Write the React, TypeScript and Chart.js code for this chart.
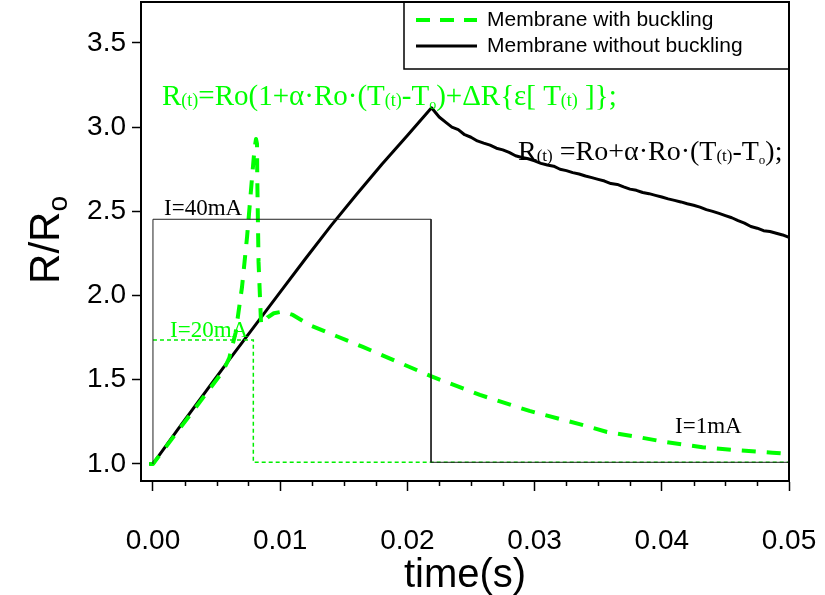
import { useEffect, useRef } from "react";
import { Chart, registerables } from "chart.js";

Chart.register(...registerables);

// ---- data ----
const xTicks = [0, 0.01, 0.02, 0.03, 0.04, 0.05];
const yTicks = [1.0, 1.5, 2.0, 2.5, 3.0, 3.5];
const xMinorTicks = [0.0025, 0.005, 0.0075, 0.0125, 0.015, 0.0175, 0.0225, 0.025, 0.0275, 0.0325, 0.035, 0.0375, 0.0425, 0.045, 0.0475];

const blackX = [-0.0003, 0, 0.002, 0.004, 0.006, 0.008, 0.010, 0.012, 0.014, 0.016, 0.018, 0.020, 0.0219,
  0.0225, 0.023, 0.0235, 0.024, 0.0245, 0.025, 0.0255, 0.026, 0.0265, 0.027, 0.0275, 0.028, 0.0285, 0.029, 0.0295, 0.030,
  0.0305, 0.031, 0.0315, 0.032, 0.0325, 0.033, 0.0335, 0.034, 0.0345, 0.035, 0.0355, 0.036, 0.0365, 0.037, 0.0375, 0.038,
  0.0385, 0.039, 0.0395, 0.040, 0.0405, 0.041, 0.0415, 0.042, 0.0425, 0.043, 0.0435, 0.044, 0.0445, 0.045, 0.0455, 0.046,
  0.0465, 0.047, 0.0475, 0.048, 0.0485, 0.049, 0.0495, 0.050];
const blackY = [1.0, 1.0, 1.21, 1.415, 1.62, 1.82, 2.02, 2.22, 2.415, 2.60, 2.78, 2.95, 3.115,
  3.06, 3.03, 3.0, 2.985, 2.955, 2.94, 2.918, 2.905, 2.893, 2.875, 2.865, 2.85, 2.83, 2.82, 2.812, 2.80,
  2.785, 2.775, 2.768, 2.75, 2.742, 2.73, 2.722, 2.71, 2.70, 2.69, 2.68, 2.665, 2.66, 2.645, 2.632, 2.625,
  2.612, 2.605, 2.595, 2.585, 2.574, 2.565, 2.556, 2.545, 2.536, 2.525, 2.51, 2.50, 2.488, 2.475, 2.462, 2.445,
  2.43, 2.41, 2.40, 2.385, 2.38, 2.37, 2.36, 2.345];

const greenX = [-0.0003, 0, 0.002, 0.004, 0.005, 0.0055, 0.006, 0.0065, 0.007, 0.0074, 0.0077, 0.0079, 0.0080, 0.0081,
  0.00818, 0.0082, 0.0083, 0.0085, 0.009, 0.0095, 0.0102, 0.011, 0.0123, 0.0144, 0.0165, 0.0185, 0.0219, 0.0257, 0.0296, 0.0336,
  0.0357, 0.038, 0.0403, 0.0432, 0.0456, 0.0487, 0.050];
const greenY = [1.0, 1.0, 1.2, 1.4, 1.5, 1.55, 1.63, 1.78, 2.05, 2.35, 2.62, 2.8, 2.88, 2.93,
  2.9, 2.7, 2.2, 1.83, 1.87, 1.895, 1.905, 1.885, 1.825, 1.76, 1.695, 1.63, 1.52, 1.41, 1.315, 1.235,
  1.19, 1.162, 1.13, 1.10, 1.083, 1.067, 1.06];

const pulse40X = [0, 0, 0.02186, 0.02186, 0.05];
const pulse40Y = [1.0, 2.453, 2.453, 1.01, 1.01];
const pulse20X = [0, 0.00789, 0.00789, 0.05];
const pulse20Y = [1.736, 1.736, 1.01, 1.01];

const legendLabels = ["Membrane with buckling", "Membrane without buckling"];
const xTitle = "time(s)";

type Run = [string, number, number];
const greenFormula: Run[] = [["R", 1, 0], ["(t)", 0.62, 1], ["=Ro(1+α·Ro·(T", 1, 0], ["(t)", 0.62, 1], ["-T", 1, 0], ["o", 0.48, 4], [")+ΔR{ε[ T", 1, 0], ["(t)", 0.62, 1], [" ]};", 1, 0]];
const blackFormula: Run[] = [["R", 1, 0], ["(t)", 0.62, 1], [" =Ro+α·Ro·(T", 1, 0], ["(t)", 0.62, 1], ["-T", 1, 0], ["o", 0.48, 4], [");", 1, 0]];

const pts = (xs: number[], ys: number[]) => xs.map((x, i) => ({ x, y: ys[i] }));

const SERIF = '"Liberation Serif", "Times New Roman", serif';
const SANS = '"Liberation Sans", Arial, sans-serif';

function drawRuns(ctx: CanvasRenderingContext2D, x: number, y: number, runs: Run[], size: number, color: string) {
  ctx.save();
  ctx.fillStyle = color;
  ctx.textAlign = "left";
  ctx.textBaseline = "alphabetic";
  let cx = x;
  for (const [t, f, dy] of runs) {
    ctx.font = `${Math.round(size * f)}px ${SERIF}`;
    ctx.fillText(t, cx, y + dy);
    cx += ctx.measureText(t).width;
  }
  ctx.restore();
}

const decorPlugin = {
  id: "decor",
  afterDraw(chart: any) {
    const ctx: CanvasRenderingContext2D = chart.ctx;
    const { left, right, top, bottom } = chart.chartArea;
    const xs = chart.scales.x;
    ctx.save();
    // frame top & right
    ctx.strokeStyle = "#000";
    ctx.lineWidth = 2;
    ctx.beginPath();
    ctx.moveTo(left, top);
    ctx.lineTo(right, top);
    ctx.lineTo(right, bottom);
    ctx.stroke();
    // minor ticks
    ctx.lineWidth = 1.5;
    ctx.beginPath();
    for (const v of xMinorTicks) {
      const px = Math.round(xs.getPixelForValue(v)) + 0.5;
      ctx.moveTo(px, bottom);
      ctx.lineTo(px, bottom + 5);
    }
    ctx.stroke();

    // legend box
    const lx = 404;
    ctx.lineWidth = 1.5;
    ctx.strokeStyle = "#000";
    ctx.strokeRect(lx, top, right - lx, 67);
    ctx.lineWidth = 4;
    ctx.strokeStyle = "#00ff00";
    ctx.setLineDash([14, 10]);
    ctx.beginPath();
    ctx.moveTo(416, 20);
    ctx.lineTo(477, 20);
    ctx.stroke();
    ctx.setLineDash([]);
    ctx.lineWidth = 3;
    ctx.strokeStyle = "#000";
    ctx.beginPath();
    ctx.moveTo(416, 46);
    ctx.lineTo(477, 46);
    ctx.stroke();
    ctx.fillStyle = "#000";
    ctx.font = `21px ${SANS}`;
    ctx.textAlign = "left";
    ctx.textBaseline = "middle";
    ctx.fillText(legendLabels[0], 487, 20);
    ctx.fillText(legendLabels[1], 487, 46);
    ctx.textBaseline = "alphabetic";

    // formulas and current labels
    drawRuns(ctx, 162, 105, greenFormula, 29, "#00ff00");
    drawRuns(ctx, 518, 160, blackFormula, 28, "#000");
    ctx.font = `23px ${SERIF}`;
    ctx.fillStyle = "#000";
    ctx.fillText("I=40mA", 164, 215);
    ctx.fillStyle = "#00ff00";
    ctx.fillText("I=20mA", 170, 337);
    ctx.fillStyle = "#000";
    ctx.fillText("I=1mA", 675, 433);

    // axis titles
    ctx.fillStyle = "#000";
    ctx.font = `40px ${SANS}`;
    ctx.textAlign = "center";
    ctx.fillText(xTitle, (left + right) / 2, 587);

    ctx.save();
    ctx.translate(59, 240);
    ctx.rotate(-Math.PI / 2);
    ctx.textAlign = "left";
    ctx.font = `42px ${SANS}`;
    const w1 = ctx.measureText("R/R").width;
    ctx.font = `28px ${SANS}`;
    const w2 = ctx.measureText("o").width;
    const start = -(w1 + w2) / 2;
    ctx.font = `42px ${SANS}`;
    ctx.fillText("R/R", start, 0);
    ctx.font = `28px ${SANS}`;
    ctx.fillText("o", start + w1, 8);
    ctx.restore();

    ctx.restore();
  },
};

export default function App() {
  const ref = useRef<HTMLCanvasElement>(null);
  useEffect(() => {
    if (!ref.current) return;
    const chart = new Chart(ref.current, {
      type: "line",
      data: {
        datasets: [
          { label: "pulse40", data: pts(pulse40X, pulse40Y), borderColor: "#222", borderWidth: 1, pointRadius: 0, fill: false },
          { label: "pulse20", data: pts(pulse20X, pulse20Y), borderColor: "#00ee00", borderWidth: 1.5, borderDash: [4, 3], pointRadius: 0, fill: false },
          { label: legendLabels[0], data: pts(greenX, greenY), borderColor: "#00ff00", borderWidth: 4, borderDash: [14, 11], borderJoinStyle: "round", pointRadius: 0, fill: false },
          { label: legendLabels[1], data: pts(blackX, blackY), borderColor: "#000", borderWidth: 3, borderJoinStyle: "round", pointRadius: 0, fill: false },
        ],
      },
      options: {
        animation: false,
        responsive: false,
        devicePixelRatio: 1,
        layout: { padding: { top: 2, right: 36, left: 0, bottom: 0 } },
        plugins: { legend: { display: false }, tooltip: { enabled: false } },
        scales: {
          x: {
            type: "linear",
            min: -0.00094,
            max: 0.05,
            afterBuildTicks: (s: any) => { s.ticks = xTicks.map((v) => ({ value: v })); },
            afterFit: (s: any) => { s.height = 114; s.paddingLeft = 0; s.paddingRight = 0; },
            ticks: { callback: (v: any) => Number(v).toFixed(2), color: "#000", font: { family: SANS, size: 28 }, padding: 33, maxRotation: 0, autoSkip: false },
            grid: { drawOnChartArea: false, drawTicks: true, tickLength: 10, tickColor: "#000", tickWidth: 1.5 },
            border: { display: true, color: "#000", width: 2 },
          },
          y: {
            type: "linear",
            min: 0.899,
            max: 3.743,
            afterBuildTicks: (s: any) => { s.ticks = yTicks.map((v) => ({ value: v })); },
            afterFit: (s: any) => { s.width = 141; s.paddingTop = 0; s.paddingBottom = 0; },
            ticks: { callback: (v: any) => Number(v).toFixed(1), color: "#000", font: { family: SANS, size: 28 }, padding: 6, autoSkip: false },
            grid: { drawOnChartArea: false, drawTicks: true, tickLength: 9, tickColor: "#000", tickWidth: 1.5 },
            border: { display: true, color: "#000", width: 2 },
          },
        },
      },
      plugins: [decorPlugin],
    } as any);
    return () => chart.destroy();
  }, []);
  return (
    <div style={{ position: "fixed", left: 0, top: 0, width: 825, height: 595, background: "#fff" }}>
      <canvas ref={ref} width={825} height={595} style={{ display: "block" }} />
    </div>
  );
}
